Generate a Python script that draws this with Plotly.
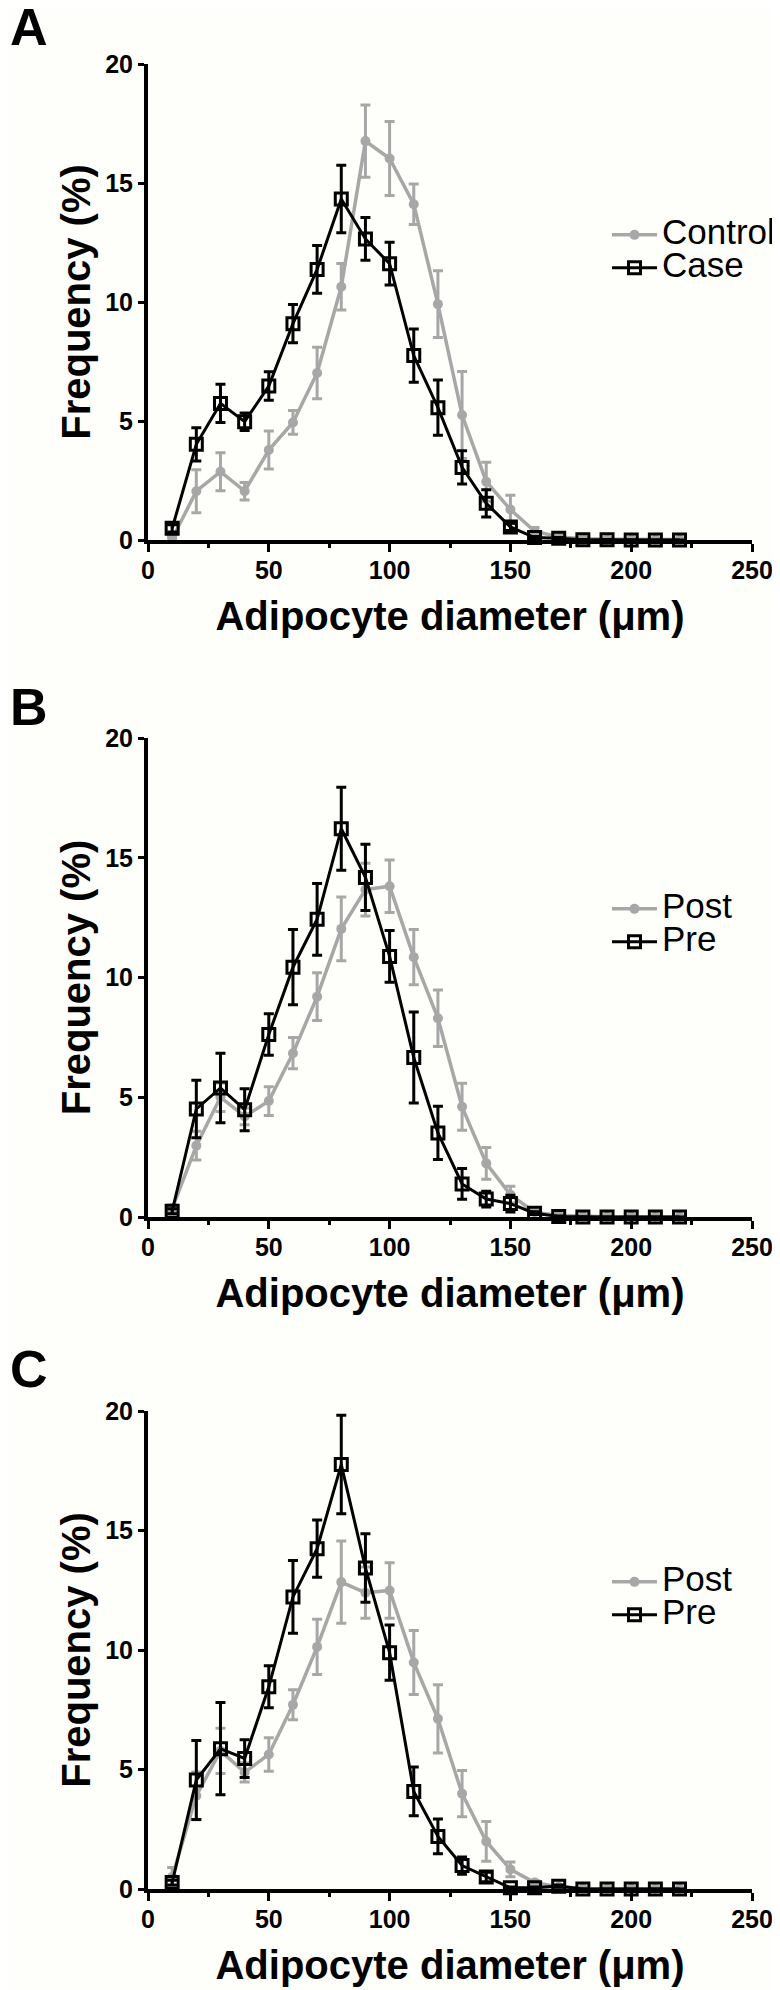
import plotly.graph_objects as go

# ---------------- data ----------------
diameter = [10, 20, 30, 40, 50, 60, 70, 80, 90, 100, 110, 120, 130, 140, 150,
            160, 170, 180, 190, 200, 210, 220]

# Panel A
control_a = [0.05, 2.05, 2.87, 2.05, 3.78, 4.94, 7.02, 10.64, 16.76, 16.03, 14.11,
             9.91, 5.25, 2.45, 1.28, 0.37, 0.13, 0.05, 0.03, 0.02, 0.02, 0.02]
control_a_err = [0.1, 0.9, 0.8, 0.37, 0.8, 0.5, 1.08, 0.98, 1.52, 1.55, 0.85,
                 1.4, 1.83, 0.82, 0.6, 0.15, 0.06, 0.03, 0.02, 0.01, 0.01, 0.01]
case_a = [0.49, 4.02, 5.74, 4.97, 6.47, 9.09, 11.37, 14.33, 12.65, 11.61, 7.75,
          5.56, 3.05, 1.54, 0.55, 0.10, 0.07, 0.01, 0.01, 0.0, 0.0, 0.0]
case_a_err = [0.15, 0.7, 0.8, 0.37, 0.6, 0.8, 1.0, 1.42, 0.9, 0.9, 1.12,
              1.16, 0.7, 0.57, 0.15, 0.05, 0.04, 0.01, 0.01, 0.0, 0.0, 0.0]

# Panel B
post_b = [0.35, 2.98, 5.0, 4.2, 4.84, 6.84, 9.2, 12.03, 13.67, 13.81, 10.85,
          8.3, 4.6, 2.24, 0.93, 0.2, 0.06, 0.02, 0.01, 0.01, 0.01, 0.01]
post_b_err = [0.15, 0.6, 0.6, 0.35, 0.6, 0.65, 1.0, 1.33, 1.1, 1.1, 1.15,
              1.18, 0.98, 0.66, 0.35, 0.08, 0.03, 0.01, 0.01, 0.01, 0.01, 0.01]
pre_b = [0.24, 4.51, 5.39, 4.48, 7.62, 10.43, 12.43, 16.21, 14.18, 10.88, 6.66,
         3.51, 1.38, 0.75, 0.56, 0.16, 0.02, 0.0, 0.0, 0.0, 0.0, 0.0]
pre_b_err = [0.1, 1.2, 1.45, 0.88, 0.87, 1.57, 1.5, 1.73, 1.38, 1.08, 1.9,
             1.11, 0.64, 0.33, 0.35, 0.06, 0.02, 0.0, 0.0, 0.0, 0.0, 0.0]

# Panel C
post_c = [0.5, 3.9, 5.78, 4.88, 5.63, 7.71, 10.13, 12.84, 12.4, 12.49, 9.48,
          7.12, 3.99, 1.99, 0.82, 0.27, 0.09, 0.02, 0.01, 0.01, 0.01, 0.01]
post_c_err = [0.4, 1.0, 0.95, 0.4, 0.7, 0.63, 1.16, 1.72, 1.07, 1.16, 1.34,
              1.43, 0.97, 0.83, 0.31, 0.1, 0.04, 0.01, 0.01, 0.01, 0.01, 0.01]
pre_c = [0.27, 4.56, 5.87, 5.46, 8.46, 12.22, 14.24, 17.76, 13.43, 9.89, 4.08,
         2.2, 0.98, 0.5, 0.05, 0.05, 0.12, 0.0, 0.0, 0.0, 0.0, 0.0]
pre_c_err = [0.1, 1.65, 1.93, 0.79, 0.88, 1.52, 1.2, 2.06, 1.43, 1.16, 1.02,
             0.73, 0.36, 0.2, 0.03, 0.03, 0.05, 0.0, 0.0, 0.0, 0.0, 0.0]

panel_labels = ["A", "B", "C"]
series_names = [("Control", "Case"), ("Post", "Pre"), ("Post", "Pre")]
x_ticks = [0, 50, 100, 150, 200, 250]
y_ticks = [0, 5, 10, 15, 20]
x_title = "Adipocyte diameter (μm)"
y_title = "Frequency (%)"

# ---------------- style / layout ----------------
# The page body has an 8px default margin, so the figure is sized to fill the
# remaining 772x1982 area and positions are given in page pixels minus 8.
OFF = 8
W, H = 780 - OFF, 1990 - OFF
GRAY = "#A7A7A7"
BLACK = "#000000"
BG = "#FEFEFA"
FONT = "Liberation Sans"

x_px = (148 - OFF, 752 - OFF)
y_px = [(64 - OFF, 540 - OFF), (738 - OFF, 1217 - OFF), (1411 - OFF, 1889 - OFF)]
letter_y = [19, 707 - OFF, 1369 - OFF]
legend_x = 607 - OFF
legend_y_top = [213.4 - OFF, 887.4 - OFF, 1560.4 - OFF]

fig = go.Figure()

panels = [
    (control_a, control_a_err, case_a, case_a_err),
    (post_b, post_b_err, pre_b, pre_b_err),
    (post_c, post_c_err, pre_c, pre_c_err),
]

for i, (g, ge, b, be) in enumerate(panels):
    sfx = "" if i == 0 else str(i + 1)
    leg = "legend" if i == 0 else f"legend{i + 1}"
    n1, n2 = series_names[i]
    fig.add_trace(go.Scatter(
        x=diameter, y=g, mode="lines+markers", name=f'<span style="font-size:35px">{n1}</span>',
        xaxis="x" + sfx, yaxis="y" + sfx, legend=leg, cliponaxis=False,
        line=dict(color=GRAY, width=3.5),
        marker=dict(symbol="circle", size=10, color=GRAY),
        error_y=dict(type="data", array=ge, visible=True, color=GRAY, thickness=3, width=5),
    ))
    fig.add_trace(go.Scatter(
        x=diameter, y=b, mode="lines+markers", name=f'<span style="font-size:35px">{n2}</span>',
        xaxis="x" + sfx, yaxis="y" + sfx, legend=leg, cliponaxis=False,
        line=dict(color=BLACK, width=3),
        marker=dict(symbol="square-open", size=12, color=BLACK, line=dict(width=3, color=BLACK)),
        error_y=dict(type="data", array=be, visible=True, color=BLACK, thickness=3, width=5),
    ))

layout = dict(
    width=W, height=H,
    margin=dict(l=0, r=0, t=0, b=0, autoexpand=False),
    paper_bgcolor=BG, plot_bgcolor=BG,
    font=dict(family=FONT, color=BLACK),
    showlegend=True,
    annotations=[],
)

for i in range(3):
    sfx = "" if i == 0 else str(i + 1)
    top, bot = y_px[i]
    layout["xaxis" + sfx] = dict(
        domain=[x_px[0] / W, x_px[1] / W], anchor="y" + sfx, automargin=False,
        range=[0, 250], tickvals=x_ticks, ticktext=[str(v) for v in x_ticks],
        showline=True, linewidth=4, linecolor=BLACK, mirror=False,
        ticks="outside", ticklen=8, tickwidth=3, tickcolor=BLACK,
        ticklabelstandoff=-3,
        minor=dict(dtick=25, tick0=0, ticks="outside", ticklen=4, tickwidth=3, tickcolor=BLACK),
        showgrid=False, zeroline=False,
        tickfont=dict(family=FONT, size=25, weight="bold", color=BLACK),
        title=dict(text=x_title, font=dict(family=FONT, size=40, weight="bold", color=BLACK), standoff=20),
    )
    layout["yaxis" + sfx] = dict(
        domain=[1 - bot / H, 1 - top / H], anchor="x" + sfx, automargin=False,
        range=[0, 20], tickvals=y_ticks, ticktext=[str(v) for v in y_ticks],
        showline=True, linewidth=4, linecolor=BLACK,
        ticks="outside", ticklen=6, tickwidth=3, tickcolor=BLACK,
        showgrid=False, zeroline=False,
        tickfont=dict(family=FONT, size=25, weight="bold", color=BLACK),
        title=dict(text=y_title, font=dict(family=FONT, size=40, weight="bold", color=BLACK), standoff=3),
    )
    leg = "legend" if i == 0 else f"legend{i + 1}"
    layout[leg] = dict(
        x=legend_x / W, xanchor="left", y=1 - legend_y_top[i] / H, yanchor="top",
        bgcolor="rgba(0,0,0,0)", borderwidth=0, itemwidth=45,
        font=dict(family=FONT, size=23, color=BLACK),
        tracegroupgap=0,
    )
    layout["annotations"].append(dict(
        text=panel_labels[i], xref="paper", yref="paper",
        x=0, y=1 - letter_y[i] / H, xanchor="left", yanchor="middle",
        showarrow=False, font=dict(family=FONT, size=52, weight="bold", color=BLACK),
    ))

fig.update_layout(**layout)
fig.write_html("out.html")
